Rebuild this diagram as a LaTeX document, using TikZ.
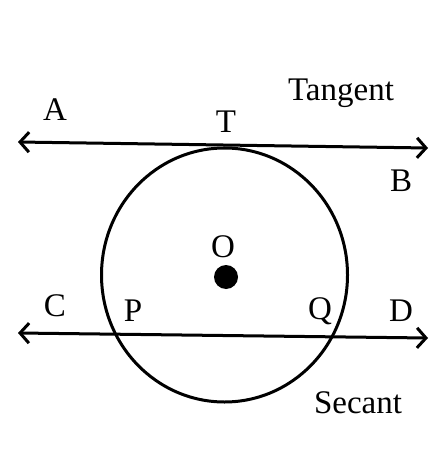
\documentclass[tikz,border=0pt]{standalone}
\usepackage{fontspec}
\setmainfont{Liberation Serif}
\usetikzlibrary{arrows.meta}
\begin{document}
\begin{tikzpicture}[x=1pt,y=-1pt,
  geo/.style={line width=3pt},
  ray/.style={geo,{Straight Barb[length=9pt,width=20pt,line width=3pt]}-{Straight Barb[length=9pt,width=20pt,line width=3pt]}},
  lbl/.style={font=\fontsize{33}{34}\selectfont,inner sep=0pt}]
\useasboundingbox (0,0) rectangle (431,449);
% circle
\coordinate (O) at (224.5,275);
\draw[geo] (O) ellipse [x radius=123, y radius=127];
\fill (226,277) circle [radius=12];
% tangent
\coordinate (A0) at (18,142);
\coordinate (B0) at (428,148);
\draw[ray] (A0) -- (B0);
% secant
\coordinate (C0) at (18,333);
\coordinate (D0) at (428,338);
\draw[ray] (C0) -- (D0);
% labels
\node[lbl] (A) at (55,110) {A};
\node[lbl] (T) at (226,122) {T};
\node[lbl] (tg) at (341,93) {Tangent};
\node[lbl] (B) at (401,181) {B};
\node[lbl] (Ol) at (223,247) {O};
\node[lbl] (C) at (55,306) {C};
\node[lbl] (P) at (133,311) {P};
\node[lbl] (Q) at (320,311) {Q};
\node[lbl] (D) at (401,311) {D};
\node[lbl] (sc) at (358,403) {Secant};
\end{tikzpicture}
\end{document}
